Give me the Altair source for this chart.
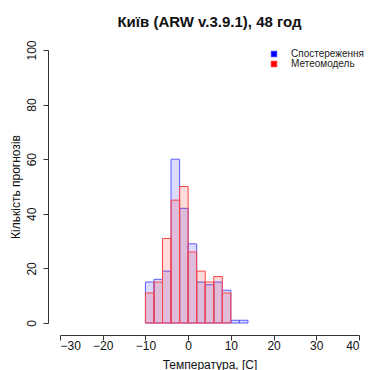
import altair as alt
import pandas as pd

# ---- data ----
bin_starts = [-10, -8, -6, -4, -2, 0, 2, 4, 6, 8, 10, 12]
observed = [15, 16, 19, 60, 42, 29, 15, 14, 15, 12, 1, 1]
model = [11, 15, 31, 45, 50, 26, 19, 15, 17, 11, 0, 0]
series_names = ["Спостереження", "Метеомодель"]
x_ticks = [-30, -20, -10, 0, 10, 20, 30, 40]
y_ticks = [0, 20, 40, 60, 80, 100]
bin_width = 2

rows = []
for name, vals in zip(series_names, [observed, model]):
    for b, v in zip(bin_starts, vals):
        rows.append({"series": name, "start": b, "count": v})
df = pd.DataFrame(rows)

FONT = "Liberation Sans"

bars = (
    alt.Chart(df)
    .transform_filter("datum.count > 0")
    .transform_calculate(end=f"datum.start + {bin_width}", base0="0")
    .mark_rect(fillOpacity=0.14, strokeWidth=1)
    .encode(
        x=alt.X(
            "start:Q",
            scale=alt.Scale(domain=[-30, 40], nice=False, zero=False),
            axis=alt.Axis(
                values=x_ticks, offset=12, tickSize=5, labelPadding=0,
                title="Температура, [C]", titlePadding=8,
            ),
        ),
        x2="end:Q",
        y=alt.Y(
            "count:Q",
            scale=alt.Scale(domain=[0, 100], nice=False),
            axis=alt.Axis(
                values=y_ticks, offset=12, tickSize=5, labelAngle=-90,
                labelAlign="center", labelBaseline="bottom", labelPadding=5,
                title="Кількість прогнозів", titlePadding=3,
            ),
        ),
        y2="base0:Q",
        fill=alt.Fill(
            "series:N",
            scale=alt.Scale(domain=series_names, range=["#0000ff", "#ff0000"]),
            legend=alt.Legend(
                title=None, orient="none", legendX=209, legendY=-1,
                symbolType="square", symbolSize=34, symbolStrokeColor="#333333",
                symbolStrokeWidth=0.6, symbolOpacity=1, labelFontSize=10,
                labelFont=FONT, labelColor="#222222", labelOffset=12,
                padding=0,
            ),
        ),
        stroke=alt.Stroke(
            "series:N",
            scale=alt.Scale(domain=series_names, range=["#5a5aff", "#ff4444"]),
            legend=None,
        ),
    )
)

chart = (
    bars.properties(
        width=299,
        height=273,
        autosize=alt.AutoSizeParams(type="none"),
        padding={"left": 60, "top": 50, "right": 9, "bottom": 47},
        title=alt.TitleParams(
            "Київ (ARW v.3.9.1), 48 год", font=FONT, fontSize=15,
            fontWeight="bold", anchor="middle", frame="group", offset=10,
            color="#111111",
        ),
    )
    .configure_view(stroke=None)
    .configure_legend(rowPadding=0)
    .configure_axis(
        grid=False, labelFont=FONT, titleFont=FONT, labelFontSize=12,
        titleFontSize=12, titleFontWeight="normal", labelColor="#111111",
        titleColor="#111111", domainColor="#333333", tickColor="#333333",
        domainWidth=1, tickWidth=1,
    )
)

chart.save("out.html", embed_options={"renderer": "svg", "actions": False})
